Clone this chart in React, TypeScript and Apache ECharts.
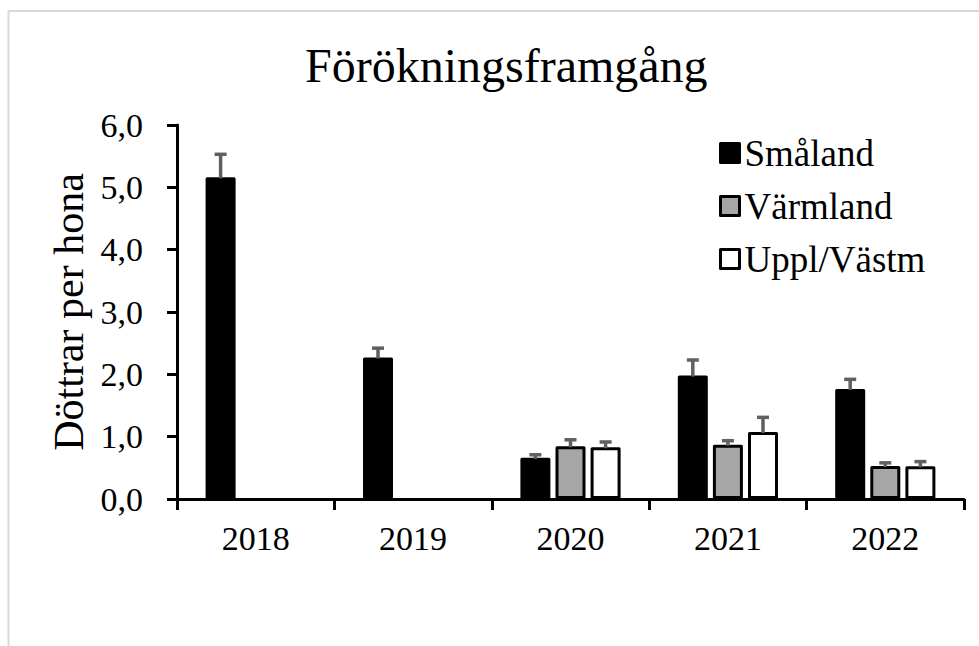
import React, { useEffect, useRef } from "react";
import * as echarts from "echarts";

const years = ["2018", "2019", "2020", "2021", "2022"];
const seriesNames = ["Småland", "Värmland", "Uppl/Västm"];
const smaland = [5.16, 2.27, 0.66, 1.98, 1.765];
const varmland = [null, null, 0.845, 0.87, 0.53];
const uppl = [null, null, 0.83, 1.075, 0.525];
const smalandErr = [5.53, 2.42, 0.71, 2.23, 1.92];
const varmlandErr = [null, null, 0.95, 0.935, 0.58];
const upplErr = [null, null, 0.915, 1.31, 0.6];
const yTicks = [0, 1, 2, 3, 4, 5, 6];

const FONT = "'Liberation Serif', 'Times New Roman', serif";
const BAR_W = 30;
const BAR_GAP = 0.17;

export default function App() {
  const ref = useRef<HTMLDivElement>(null);
  useEffect(() => {
    if (!ref.current) return;
    const chart = echarts.init(ref.current, undefined, { renderer: "svg" });
    const values = [smaland, varmland, uppl];
    const errs = [smalandErr, varmlandErr, upplErr];
    const fills = ["#000000", "#a6a6a6", "#ffffff"];

    const barSeries = values.map((vals, i) => ({
      name: seriesNames[i],
      type: "bar",
      barWidth: BAR_W,
      barGap: BAR_GAP * 100 + "%",
      data: vals.map((v) => (v == null ? "-" : v)),
      itemStyle: {
        color: fills[i],
        borderColor: "#000000",
        borderWidth: 3,
        borderJoin: "round",
      },
      z: 2,
    }));

    const errSeries = values.map((vals, i) => ({
      type: "custom",
      name: seriesNames[i] + "_err",
      z: 3,
      silent: true,
      data: vals
        .map((v, k) => (v == null || errs[i][k] == null ? null : [k, v, errs[i][k]]))
        .filter((d) => d !== null),
      encode: { x: 0, y: [1, 2] },
      renderItem: (params: any, api: any) => {
        const cat = api.value(0);
        const v = api.value(1);
        const t = api.value(2);
        const base = api.coord([cat, v]);
        const top = api.coord([cat, t]);
        const x = base[0] + (i - 1) * BAR_W * (1 + BAR_GAP);
        const style = { stroke: "#606060", lineWidth: 3.5 };
        return {
          type: "group",
          children: [
            { type: "line", shape: { x1: x, y1: base[1] + 1, x2: x, y2: top[1] }, style },
            { type: "line", shape: { x1: x - 6, y1: top[1], x2: x + 6, y2: top[1] }, style },
          ],
        };
      },
    }));

    chart.setOption({
      animation: false,
      title: {
        text: "Förökningsframgång",
        left: 300,
        top: 36,
        textStyle: { fontFamily: FONT, fontSize: 48, fontWeight: "normal", color: "#000" },
      },
      legend: {
        orient: "vertical",
        left: 714,
        top: 127,
        itemWidth: 19,
        itemHeight: 19,
        itemGap: 11,
        icon: "rect",
        textStyle: { fontFamily: FONT, fontSize: 37, color: "#000", lineHeight: 42 },
        data: seriesNames.map((n, i) => ({
          name: n,
          itemStyle: { color: fills[i], borderColor: "#000", borderWidth: 3 },
        })),
      },
      graphic: [
        {
          type: "rect",
          shape: { x: 8.5, y: 11, width: 1000, height: 700 },
          style: { fill: "none", stroke: "#d9d9d9", lineWidth: 2 },
          silent: true,
        },
      ],
      grid: { left: 177, right: 15, top: 125, bottom: 147, containLabel: false },
      xAxis: {
        type: "category",
        data: years,
        axisLine: { lineStyle: { color: "#000", width: 3 } },
        axisTick: { show: true, length: 11, lineStyle: { color: "#000", width: 3 } },
        axisLabel: { fontFamily: FONT, fontSize: 34, color: "#000", margin: 22 },
      },
      yAxis: {
        type: "value",
        min: yTicks[0],
        max: yTicks[yTicks.length - 1],
        interval: 1,
        name: "Döttrar per hona",
        nameLocation: "middle",
        nameGap: 86,
        nameTextStyle: { fontFamily: FONT, fontSize: 42, color: "#000" },
        splitLine: { show: false },
        axisLine: { show: true, lineStyle: { color: "#000", width: 3 } },
        axisTick: { show: true, length: 10, lineStyle: { color: "#000", width: 3 } },
        axisLabel: {
          fontFamily: FONT,
          fontSize: 34,
          color: "#000",
          margin: 34,
          formatter: (v: number) => v.toFixed(1).replace(".", ","),
        },
      },
      series: [...barSeries, ...errSeries],
    });
    return () => chart.dispose();
  }, []);
  return (
    <div
      ref={ref}
      style={{ position: "fixed", left: 0, top: 0, width: 979, height: 646, background: "#fff" }}
    />
  );
}
